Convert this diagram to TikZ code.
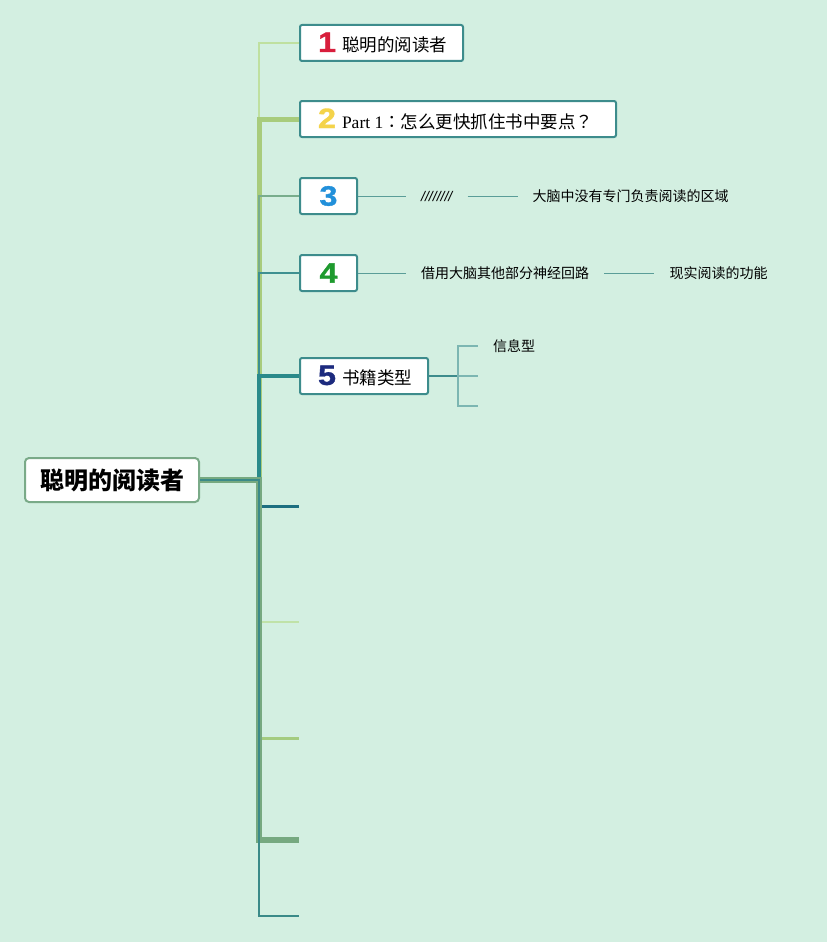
\documentclass[tikz,border=0pt]{standalone}
\usepackage{fontspec}
\setmainfont{Noto Sans CJK SC}
\newfontfamily\partfont{Liberation Serif}
\newfontfamily\slashfont{Liberation Sans}
\newfontfamily\digitfont{Liberation Sans}[UprightFont=* Bold, FakeBold=1.2]
\newfontfamily\punctfont{Noto Sans CJK TC}

\definecolor{bgmint}{HTML}{D3EFE1}
\definecolor{boxline}{HTML}{3D8C8C}
\definecolor{rootline}{HTML}{7AAA88}
\definecolor{subline}{HTML}{5A9D98}
\definecolor{bracketline}{HTML}{7CB6B2}
\definecolor{numred}{HTML}{D81E3C}
\definecolor{numyellow}{HTML}{F4D34A}
\definecolor{numblue}{HTML}{2290DA}
\definecolor{numgreen}{HTML}{1E9A2E}
\definecolor{numnavy}{HTML}{1C2A7E}
\definecolor{brone}{HTML}{BFE0A0}
\definecolor{brtwo}{HTML}{A8CC7C}
\definecolor{brthree}{HTML}{78AD8C}
\definecolor{brfour}{HTML}{3E9090}
\definecolor{brfive}{HTML}{2A8A8A}
\definecolor{brsix}{HTML}{1D6F80}
\definecolor{brseven}{HTML}{C0E2A8}
\definecolor{breight}{HTML}{A4CC80}
\definecolor{brnine}{HTML}{76A980}
\definecolor{brten}{HTML}{3A8A88}

\newcommand{\marker}[2]{\makebox[22pt]{\textcolor{#1}{\digitfont\fontsize{28}{28}\selectfont\scalebox{1.15}[1]{#2}}}}

\tikzset{
  topic/.style={draw=boxline, line width=2pt, fill=white, rounded corners=2pt, anchor=west,
    minimum height=36pt, minimum width=57pt, inner xsep=16pt, inner ysep=0pt,
    font=\fontsize{17.5}{20}\selectfont},
  leaf/.style={anchor=west, inner xsep=15pt, inner ysep=2pt, font=\fontsize{14}{16}\selectfont},
  branch/.style 2 args={draw=#1, line width=#2}
}

\begin{document}
\begin{tikzpicture}[x=1pt, y=-1pt]
\fill[bgmint] (0,0) rectangle (827,942);
\useasboundingbox (0,0) rectangle (827,942);

\node [draw=rootline, line width=2pt, fill=white, rounded corners=4pt, minimum width=174pt,
  minimum height=44pt, font=\fontsize{24}{26}\selectfont\bfseries] (root) at (112,480) {聪明的阅读者};
\coordinate (hub) at (259,480);

\node [topic] (t1) at (299,43) {\marker{numred}{1}\hspace{4pt}聪明的阅读者};
\node [topic] (t2) at (299,119) {\makebox[284pt][l]{\marker{numyellow}{2}\hspace{4pt}{\partfont Part 1}{\punctfont ：}怎么更快抓住书中要点{\punctfont ？}}};
\node [topic, inner xsep=0pt] (t3) at (299,196) {\marker{numblue}{3}};
\node [topic, inner xsep=0pt] (t4) at (299,273) {\marker{numgreen}{4}};
\node [topic] (t5) at (299,376) {\marker{numnavy}{5}\hspace{4pt}书籍类型};
\coordinate (e6) at (299,506);
\coordinate (e7) at (299,622);
\coordinate (e8) at (299,738);
\coordinate (e9) at (299,840);
\coordinate (e10) at (299,916);

\draw [branch={brone}{1.5pt}] (root.east) -- (hub) |- (t1.west);
\draw [branch={brtwo}{5pt}] (root.east) -- (hub) |- (t2.west);
\draw [branch={brthree}{2pt}] (root.east) -- (hub) |- (t3.west);
\draw [branch={brfour}{1.5pt}] (root.east) -- (hub) |- (t4.west);
\draw [branch={brfive}{4pt}] (root.east) -- (hub) |- (t5.west);
\draw [branch={brsix}{3pt}] (root.east) -- (hub) |- (e6);
\draw [branch={brseven}{1.5pt}] (root.east) -- (hub) |- (e7);
\draw [branch={breight}{3pt}] (root.east) -- (hub) |- (e8);
\draw [branch={brnine}{6pt}] (root.east) -- (hub) |- (e9);
\draw [branch={brten}{2pt}] (root.east) -- (hub) |- (e10);

\node [leaf] (s31) at (406,196) {\slashfont\itshape ////////};
\node [leaf] (s32) at ([xshift=50pt]s31.east) {大脑中没有专门负责阅读的区域};
\node [leaf] (s41) at (406,273) {借用大脑其他部分神经回路};
\node [leaf] (s42) at ([xshift=50pt]s41.east) {现实阅读的功能};
\draw [subline, line width=1pt] (t3.east) -- (s31.west) (s31.east) -- (s32.west);
\draw [subline, line width=1pt] (t4.east) -- (s41.west) (s41.east) -- (s42.west);

\coordinate (fork) at (458,376);
\node [leaf] (s51) at (478,346) {信息型};
\coordinate (s52) at (478,376);
\coordinate (s53) at (478,406);
\draw [boxline, line width=2pt] (t5.east) -- (fork);
\draw [bracketline, line width=2pt] (fork) |- (s51.west) (fork) -- (s52) (fork) |- (s53);
\end{tikzpicture}
\end{document}
